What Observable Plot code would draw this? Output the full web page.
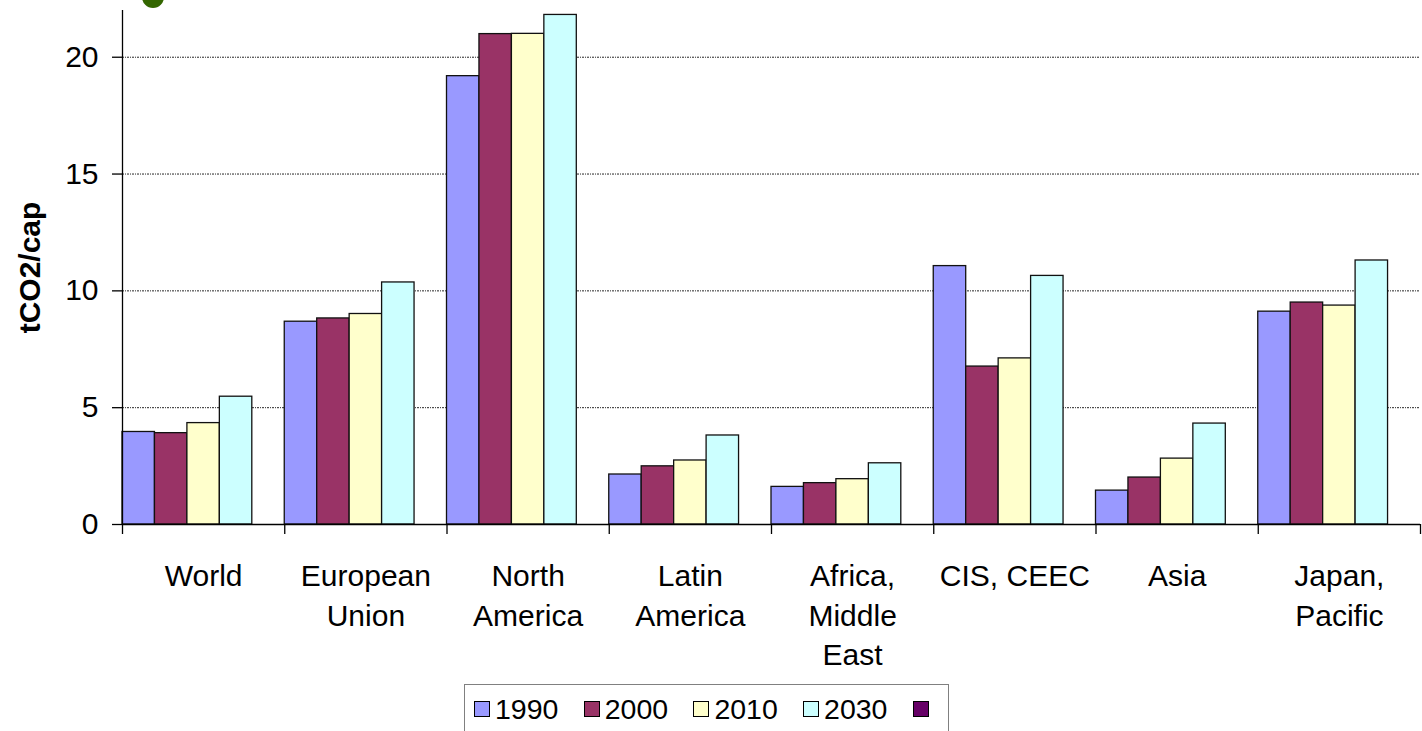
<!DOCTYPE html>
<html>
<head>
<meta charset="utf-8">
<script src="https://cdn.jsdelivr.net/npm/d3@7"></script>
<script src="https://cdn.jsdelivr.net/npm/@observablehq/plot@0.6"></script>
<style>
  html, body { margin: 0; padding: 0; background: white; overflow: hidden; }
  #wrap { position: relative; width: 1422px; height: 731px; font-family: "Liberation Sans", Arial, sans-serif; }
  #dot { position: absolute; left: 142px; top: -14px; width: 22px; height: 22px; border-radius: 50%; background: #336600; z-index: 2; }
  #legend { position: absolute; left: 464px; top: 684px; width: 485px; height: 60px; border: 1px solid #808080; box-sizing: border-box;
            display: flex; align-items: flex-start; padding: 10px 0 0 9px; font-size: 28.5px; color: #000; }
  .item { display: flex; align-items: center; width: 109.7px; flex: none; height: 28px; }
  .sw { width: 14px; height: 14px; border: 1px solid #000; margin-right: 5px; }
</style>
</head>
<body>
<div id="wrap"><div id="dot"></div><div id="chart"></div><div id="legend"></div></div>
<script>
const categories = ["World", "European Union", "North America", "Latin America", "Africa, Middle East", "CIS, CEEC", "Asia", "Japan, Pacific"];
const categoryLabels = ["World", "European\nUnion", "North\nAmerica", "Latin\nAmerica", "Africa,\nMiddle\nEast", "CIS, CEEC", "Asia", "Japan,\nPacific"];
const years = ["1990", "2000", "2010", "2030", ""];
const v1990 = [3.96, 8.68, 19.19, 2.14, 1.61, 11.06, 1.45, 9.11];
const v2000 = [3.91, 8.82, 20.99, 2.49, 1.77, 6.76, 2.01, 9.50];
const v2010 = [4.34, 9.01, 21.00, 2.74, 1.94, 7.11, 2.82, 9.37];
const v2030 = [5.47, 10.36, 21.81, 3.81, 2.62, 10.64, 4.32, 11.30];
const yTicks = [0, 5, 10, 15, 20];
const seriesColors = ["#9999FF", "#993366", "#FFFFCC", "#CCFFFF", "#660066"];

const series = [v1990, v2000, v2010, v2030];
const rows = [];
categories.forEach((c, ci) => {
  series.forEach((vals, si) => {
    rows.push({region: c, ci, si, year: years[si], value: vals[ci]});
  });
});
const slots = years.length;
const boundaries = d3.range(0, categories.length * slots + 1, slots);

const chart = Plot.plot({
  width: 1422,
  height: 684,
  marginLeft: 122,
  marginRight: 2,
  marginTop: 10,
  marginBottom: 160,
  style: {fontFamily: "Liberation Sans, Arial, sans-serif", fontSize: "30px", background: "white", color: "black", overflow: "visible"},
  x: {domain: [0, categories.length * slots], axis: null},
  y: {domain: [0, 22], axis: null},
  color: {domain: years, range: seriesColors},
  marks: [
    Plot.ruleY(yTicks.filter(d => d > 0), {stroke: "#000", strokeWidth: 1, strokeDasharray: "2,1,1,1", strokeOpacity: 0.85}),
    Plot.rectY(rows, {x1: d => d.ci * slots + d.si, x2: d => d.ci * slots + d.si + 1, y: "value", fill: "year", stroke: "#111", strokeWidth: 1.3}),
    Plot.ruleY([0], {stroke: "#000", strokeWidth: 1.3}),
    Plot.ruleX([0], {stroke: "#000", strokeWidth: 1.3}),
    Plot.axisY({ticks: yTicks, tickSize: 10, tickPadding: 14, fontSize: 30, label: null, strokeWidth: 1.3}),
    Plot.axisX({ticks: boundaries, tickSize: 10, tickFormat: () => "", strokeWidth: 1.3, label: null}),
    Plot.text(categoryLabels, {x: (d, i) => i * slots + 2.5, y: () => 0, text: d => d, dy: 34, lineAnchor: "top", lineHeight: 1.31, fontSize: 30, fill: "#000"}),
    Plot.text(["tCO2/cap"], {x: () => 0, y: () => 11, text: d => d, rotate: -90, dx: -92, fontSize: 30, fontWeight: "bold", fill: "#000"})
  ]
});
document.getElementById("chart").appendChild(chart);

const legend = document.getElementById("legend");
years.forEach((y, i) => {
  const item = document.createElement("div");
  item.className = "item";
  const sw = document.createElement("div");
  sw.className = "sw";
  sw.style.background = seriesColors[i];
  item.appendChild(sw);
  const t = document.createElement("span");
  t.textContent = y;
  item.appendChild(t);
  legend.appendChild(item);
});
</script>
</body>
</html>
